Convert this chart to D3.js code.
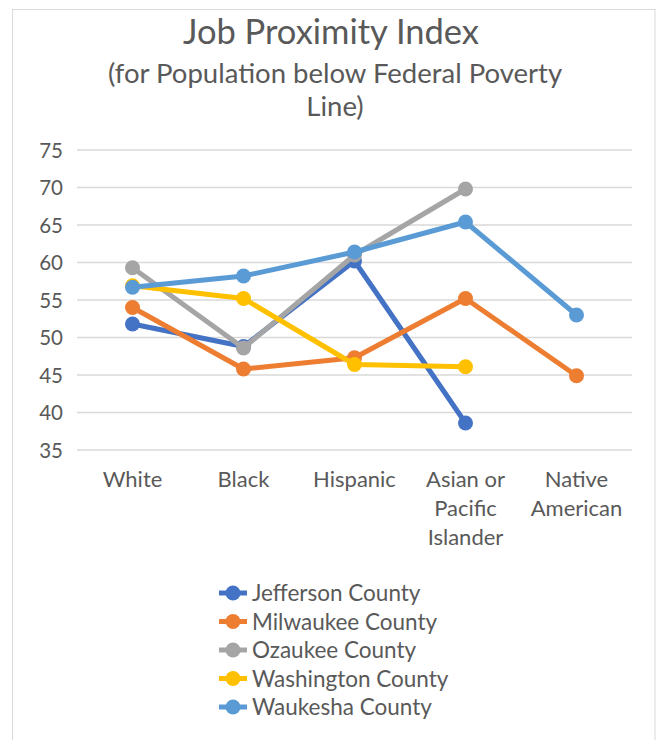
<!DOCTYPE html>
<html>
<head>
<meta charset="utf-8">
<script src="https://cdn.jsdelivr.net/npm/d3@7"></script>
<style>
  html, body { margin: 0; padding: 0; background: #fff; }
  svg text { font-family: Lato, "Open Sans", sans-serif; fill: #595959; }
</style>
</head>
<body>
<svg id="chart" width="662" height="740"></svg>
<script>
const categories = ["White", "Black", "Hispanic", "Asian or Pacific Islander", "Native American"];
const categoryLines = [["White"], ["Black"], ["Hispanic"], ["Asian or", "Pacific", "Islander"], ["Native", "American"]];
const seriesNames = ["Jefferson County", "Milwaukee County", "Ozaukee County", "Washington County", "Waukesha County"];
const jefferson  = [51.8, 48.8, 60.2, 38.6, null];
const milwaukee  = [54.0, 45.8, 47.3, 55.2, 44.9];
const ozaukee    = [59.3, 48.6, 61.0, 69.8, null];
const washington = [56.9, 55.2, 46.4, 46.1, null];
const waukesha   = [56.7, 58.2, 61.4, 65.4, 53.0];
const yTicks = [35, 40, 45, 50, 55, 60, 65, 70, 75];
const colors = ["#4472C4", "#ED7D31", "#A5A5A5", "#FFC000", "#5B9BD5"];
const titleLines = ["Job Proximity Index", "(for Population below Federal Poverty", "Line)"];

const series = [jefferson, milwaukee, ozaukee, washington, waukesha];

const svg = d3.select("#chart");

// chart border
svg.append("rect").attr("x", 12.5).attr("y", 9.5).attr("width", 642.5).attr("height", 760)
  .attr("fill", "none").attr("stroke", "#d9d9d9").attr("stroke-width", 1);

// title
svg.append("text").attr("x", 331).attr("y", 44).attr("text-anchor", "middle")
  .style("font-size", "34.5px").text(titleLines[0]);
svg.append("text").attr("x", 335).attr("y", 83).attr("text-anchor", "middle")
  .style("font-size", "27.5px").text(titleLines[1]);
svg.append("text").attr("x", 335).attr("y", 116).attr("text-anchor", "middle")
  .style("font-size", "27.5px").text(titleLines[2]);

const x = d3.scaleBand().domain(categories).range([77, 632]);
const y = d3.scaleLinear().domain([35, 75]).range([450, 150]);

// gridlines
svg.append("g").selectAll("line").data(yTicks).join("line")
  .attr("x1", 77).attr("x2", 632)
  .attr("y1", d => y(d)).attr("y2", d => y(d))
  .attr("stroke", "#d9d9d9").attr("stroke-width", 1.5);

// y axis labels
const yAxis = d3.axisLeft(y).tickValues(yTicks).tickSize(0).tickPadding(0);
const yg = svg.append("g").attr("transform", "translate(63,0)").call(yAxis);
yg.select(".domain").remove();
yg.selectAll("text").style("font-size", "20.5px").attr("dy", "0.36em").attr("fill", "#595959");

// x axis labels
const xg = svg.append("g");
categories.forEach((c, i) => {
  const t = xg.append("text").attr("x", x(c) + x.bandwidth() / 2).attr("y", 487)
    .attr("text-anchor", "middle").style("font-size", "22px");
  categoryLines[i].forEach((ln, j) => {
    t.append("tspan").attr("x", x(c) + x.bandwidth() / 2).attr("dy", j === 0 ? 0 : 29).text(ln);
  });
});

// lines and markers
const line = d3.line()
  .defined(d => d.v !== null)
  .x(d => x(d.c) + x.bandwidth() / 2)
  .y(d => y(d.v));

series.forEach((vals, si) => {
  const pts = vals.map((v, i) => ({ c: categories[i], v }));
  const g = svg.append("g");
  g.append("path").datum(pts).attr("d", line)
    .attr("fill", "none").attr("stroke", colors[si]).attr("stroke-width", 5)
    .attr("stroke-linejoin", "round").attr("stroke-linecap", "round");
  g.selectAll("circle").data(pts.filter(d => d.v !== null)).join("circle")
    .attr("cx", d => x(d.c) + x.bandwidth() / 2).attr("cy", d => y(d.v))
    .attr("r", 7.5).attr("fill", colors[si]);
});

// legend
const legend = svg.append("g");
seriesNames.forEach((name, i) => {
  const ly = 593 + i * 28.5;
  legend.append("line").attr("x1", 219).attr("x2", 247).attr("y1", ly).attr("y2", ly)
    .attr("stroke", colors[i]).attr("stroke-width", 5);
  legend.append("circle").attr("cx", 233).attr("cy", ly).attr("r", 7.5).attr("fill", colors[i]);
  legend.append("text").attr("x", 252).attr("y", ly).attr("dy", "0.36em")
    .style("font-size", "22.5px").text(name);
});
</script>
</body>
</html>
